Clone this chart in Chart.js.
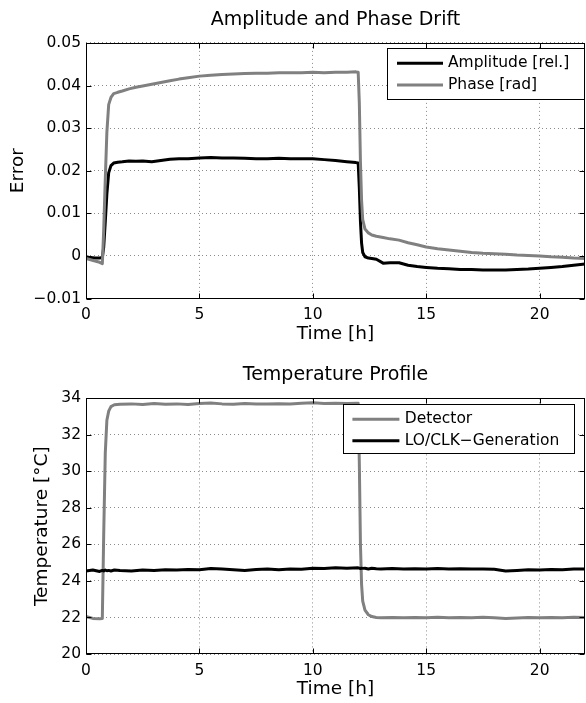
<!DOCTYPE html>
<html>
<head>
<meta charset="utf-8">
<title>Amplitude and Phase Drift / Temperature Profile</title>
<script src="https://cdn.jsdelivr.net/npm/chart.js@4.4.1/dist/chart.umd.min.js"></script>
<style>
  html, body { margin: 0; padding: 0; background: #fff; overflow: hidden; }
  .panel { position: absolute; left: 0; width: 586px; }
  #top { top: 0; height: 350px; }
  #bottom { top: 350px; height: 353px; }
</style>
</head>
<body>
<div class="panel" id="top"><canvas id="driftChart"></canvas></div>
<div class="panel" id="bottom"><canvas id="tempChart"></canvas></div>
<script>
// ---- data ----
const xTicks = [0, 5, 10, 15, 20];

// upper panel: drift
const tDrift = [0, 0.2, 0.4, 0.6, 0.72, 0.78, 0.85, 0.92, 1.0, 1.1, 1.22, 1.4, 1.6, 1.9, 2.2, 2.5, 2.9, 3.3, 3.7, 4.1,
    4.5, 5.0, 5.5, 6.0, 6.5, 7.0, 7.5, 8.0, 8.5, 9.0, 9.5, 10.0, 10.5, 11.0, 11.5, 11.9, 12.0, 12.05, 12.1, 12.15,
    12.2, 12.3, 12.45, 12.6, 12.8, 13.1, 13.4, 13.8, 14.2, 14.6, 15.0, 15.5, 16.0, 16.5, 17.0, 17.5, 18.0, 18.5, 19.0, 19.5,
    20.0, 20.5, 21.0, 21.5, 22.0];
const amplitude = [-0.0002, -0.0004, -0.0005, -0.0005, -0.0004, 0.002, 0.008, 0.0145, 0.0195, 0.0212, 0.0218, 0.0220, 0.0221, 0.0223, 0.0222, 0.0223, 0.0221, 0.0224, 0.0227, 0.0228,
    0.0228, 0.0230, 0.0231, 0.0230, 0.0230, 0.0229, 0.0228, 0.0228, 0.0229, 0.0228, 0.0228, 0.0228, 0.0226, 0.0224, 0.0221, 0.0219, 0.0218, 0.016, 0.008, 0.003,
    0.0008, -0.0002, -0.0005, -0.0006, -0.0008, -0.0017, -0.0016, -0.0016, -0.0022, -0.0025, -0.0027, -0.0029, -0.0030, -0.0032, -0.0032, -0.0033, -0.0033, -0.0033, -0.0032, -0.0031,
    -0.0029, -0.0027, -0.0025, -0.0022, -0.0019];
const phase = [-0.0006, -0.0009, -0.0012, -0.0015, -0.0018, 0.006, 0.018, 0.029, 0.0355, 0.0372, 0.0381, 0.0384, 0.0387, 0.0392, 0.0396, 0.0399, 0.0403, 0.0407, 0.0411, 0.0415,
    0.0418, 0.0422, 0.0424, 0.0426, 0.0427, 0.0428, 0.0429, 0.0429, 0.0430, 0.0430, 0.0430, 0.0431, 0.0430, 0.0431, 0.0431, 0.0432, 0.0431, 0.036, 0.022, 0.013,
    0.0085, 0.0063, 0.0054, 0.0049, 0.0046, 0.0043, 0.0040, 0.0037, 0.0031, 0.0026, 0.0021, 0.0017, 0.0014, 0.0011, 0.0008, 0.0006, 0.0005, 0.0004, 0.0002, 0.0001,
    0.0000, -0.0002, -0.0003, -0.0005, -0.0006];
const yTicksDrift = [-0.01, 0, 0.01, 0.02, 0.03, 0.04, 0.05];

// lower panel: temperatures
const tTemp = [0, 0.3, 0.6, 0.72, 0.78, 0.85, 0.92, 1.0, 1.1, 1.25, 1.5, 2, 2.5, 3, 3.5, 4, 4.5, 5, 5.5, 6,
    6.5, 7, 7.5, 8, 8.5, 9, 9.5, 10, 10.5, 11, 11.5, 12, 12.05, 12.1, 12.15, 12.2, 12.3, 12.45, 12.6, 12.8,
    13, 13.5, 14, 14.5, 15, 15.5, 16, 16.5, 17, 17.5, 18, 18.5, 19, 19.5, 20, 20.5, 21, 21.5, 22];
const detector = [22.05, 21.95, 21.93, 21.95, 26.5, 31.0, 32.8, 33.3, 33.55, 33.65, 33.68, 33.70, 33.66, 33.72, 33.68, 33.70, 33.66, 33.72, 33.75, 33.70,
    33.68, 33.72, 33.70, 33.69, 33.71, 33.70, 33.73, 33.76, 33.72, 33.74, 33.72, 33.73, 30.5, 26.0, 23.8, 22.9, 22.4, 22.15, 22.05, 22.0,
    21.98, 22.0, 21.98, 22.0, 21.99, 22.01, 21.98, 22.0, 21.99, 22.01, 21.98, 21.95, 21.97, 22.0, 21.99, 22.0, 21.98, 22.01, 22.0];
const loClk = [24.55, 24.6, 24.52, 24.58, 24.55, 24.6, 24.56, 24.58, 24.55, 24.6, 24.57, 24.55, 24.6, 24.58, 24.62, 24.6, 24.63, 24.62, 24.68, 24.65,
    24.62, 24.58, 24.63, 24.65, 24.62, 24.66, 24.64, 24.7, 24.68, 24.72, 24.7, 24.72, 24.7, 24.68, 24.7, 24.69, 24.7, 24.66, 24.7, 24.67,
    24.66, 24.68, 24.65, 24.67, 24.66, 24.68, 24.66, 24.67, 24.65, 24.66, 24.64, 24.55, 24.58, 24.62, 24.6, 24.63, 24.62, 24.66, 24.65];
const yTicksTemp = [20, 22, 24, 26, 28, 30, 32, 34];

const GRAY = '#808080';
const BLACK = '#000000';

Chart.defaults.font.family = "'DejaVu Sans', sans-serif";
Chart.defaults.color = '#000';

// axes box with inward tick marks, like the original plot
const boxAxes = {
    id: 'boxAxes',
    afterDatasetsDraw(chart) {
        const {ctx, chartArea: a, scales: {x, y}} = chart;
        const L = Math.round(a.left) + 0.5, R = Math.round(a.right) - 0.5;
        const T = Math.round(a.top) + 0.5, B = Math.round(a.bottom) - 0.5;
        ctx.save();
        ctx.strokeStyle = '#000';
        ctx.lineWidth = 1;
        ctx.beginPath();
        x.ticks.forEach(t => {
            const px = Math.round(x.getPixelForValue(t.value)) + 0.5;
            ctx.moveTo(px, B); ctx.lineTo(px, B - 5);
            ctx.moveTo(px, T); ctx.lineTo(px, T + 5);
        });
        y.ticks.forEach(t => {
            const py = Math.round(y.getPixelForValue(t.value)) + 0.5;
            ctx.moveTo(L, py); ctx.lineTo(L + 5, py);
            ctx.moveTo(R, py); ctx.lineTo(R - 5, py);
        });
        ctx.stroke();
        ctx.strokeRect(L, T, R - L, B - T);
        ctx.restore();
    }
};

// framed legend inside the plot
const boxLegend = {
    id: 'boxLegend',
    afterDraw(chart, args, opts) {
        const {ctx} = chart;
        ctx.save();
        ctx.fillStyle = '#fff';
        ctx.fillRect(opts.x, opts.y, opts.w, opts.h);
        ctx.strokeStyle = '#000';
        ctx.lineWidth = 1;
        ctx.strokeRect(Math.round(opts.x) + 0.5, Math.round(opts.y) + 0.5, opts.w, opts.h);
        ctx.font = "15.5px 'DejaVu Sans', sans-serif";
        ctx.textBaseline = 'middle';
        chart.data.datasets.forEach((ds, i) => {
            const yy = opts.y + opts.rowTop + i * opts.rowGap;
            ctx.strokeStyle = ds.borderColor;
            ctx.lineWidth = ds.borderWidth;
            ctx.beginPath();
            ctx.moveTo(opts.x + opts.lineStart, yy);
            ctx.lineTo(opts.x + opts.lineStart + opts.lineLen, yy);
            ctx.stroke();
            ctx.fillStyle = '#000';
            ctx.fillText(ds.label, opts.x + opts.textStart, yy);
        });
        ctx.restore();
    }
};

function points(xs, ys) {
    return xs.map((t, i) => ({x: t, y: ys[i]}));
}

function makeChart(canvasId, cfg) {
    const minus = v => String(v).replace('-', '\u2212');
    return new Chart(document.getElementById(canvasId), {
        type: 'line',
        data: {datasets: cfg.datasets},
        plugins: [boxAxes, boxLegend],
        options: {
            responsive: true,
            maintainAspectRatio: false,
            animation: false,
            events: [],
            layout: {padding: {left: 0, right: 1, top: 0, bottom: 0}},
            elements: {
                point: {radius: 0},
                line: {tension: 0, borderWidth: 3, borderJoinStyle: 'round', borderCapStyle: 'round'}
            },
            plugins: {
                legend: {display: false},
                tooltip: {enabled: false},
                title: {
                    display: true,
                    text: cfg.title,
                    fullSize: false,
                    color: '#000',
                    font: {size: 19, weight: 'normal'},
                    padding: cfg.titlePadding
                },
                boxLegend: cfg.legend
            },
            scales: {
                x: {
                    type: 'linear',
                    min: 0,
                    max: 22,
                    afterBuildTicks: s => { s.ticks = xTicks.map(v => ({value: v})); },
                    afterFit: s => { s.height = cfg.xHeight; },
                    grid: {color: '#8c8c8c', lineWidth: 1, drawTicks: false},
                    border: {display: false, dash: [1, 3]},
                    ticks: {font: {size: 15.5}, padding: 7.5, maxRotation: 0, callback: minus},
                    title: {display: true, text: 'Time [h]', font: {size: 18.5}, padding: {top: 0, bottom: cfg.xTitlePad}}
                },
                y: {
                    type: 'linear',
                    min: cfg.yMin,
                    max: cfg.yMax,
                    afterBuildTicks: s => { s.ticks = cfg.yTicks.map(v => ({value: v})); },
                    afterFit: s => { s.width = 86; },
                    grid: {color: '#8c8c8c', lineWidth: 1, drawTicks: false},
                    border: {display: false, dash: [1, 3]},
                    ticks: {font: {size: 15.5}, padding: 5, callback: minus},
                    title: {display: true, text: cfg.yTitle, font: {size: 18.5}, padding: {top: cfg.yTitlePad, bottom: 0}}
                }
            }
        }
    });
}

makeChart('driftChart', {
    title: 'Amplitude and Phase Drift',
    titlePadding: {top: 8.4, bottom: 11.7},
    yTitle: 'Error',
    yTitlePad: 6.6,
    xHeight: 51.5,
    xTitlePad: 4.4,
    yMin: -0.01,
    yMax: 0.05,
    yTicks: yTicksDrift,
    legend: {x: 387, y: 48, w: 197, h: 51, rowTop: 15.3, rowGap: 21.7, lineStart: 10, lineLen: 46, textStart: 61},
    datasets: [
        {label: 'Amplitude [rel.]', data: points(tDrift, amplitude), borderColor: BLACK, borderWidth: 3, order: 1},
        {label: 'Phase [rad]', data: points(tDrift, phase), borderColor: GRAY, borderWidth: 3, order: 0}
    ]
});

makeChart('tempChart', {
    title: 'Temperature Profile',
    titlePadding: {top: 13.9, bottom: 11.7},
    yTitle: 'Temperature [\u00B0C]',
    yTitlePad: 31.4,
    xHeight: 49,
    xTitlePad: 2.4,
    yMin: 20,
    yMax: 34,
    yTicks: yTicksTemp,
    legend: {x: 343, y: 54.3, w: 231, h: 49, rowTop: 15, rowGap: 21.4, lineStart: 9.4, lineLen: 47, textStart: 61.7},
    datasets: [
        {label: 'Detector', data: points(tTemp, detector), borderColor: GRAY, borderWidth: 3, order: 1},
        {label: 'LO/CLK\u2212Generation', data: points(tTemp, loClk), borderColor: BLACK, borderWidth: 3, order: 0}
    ]
});
</script>
</body>
</html>
